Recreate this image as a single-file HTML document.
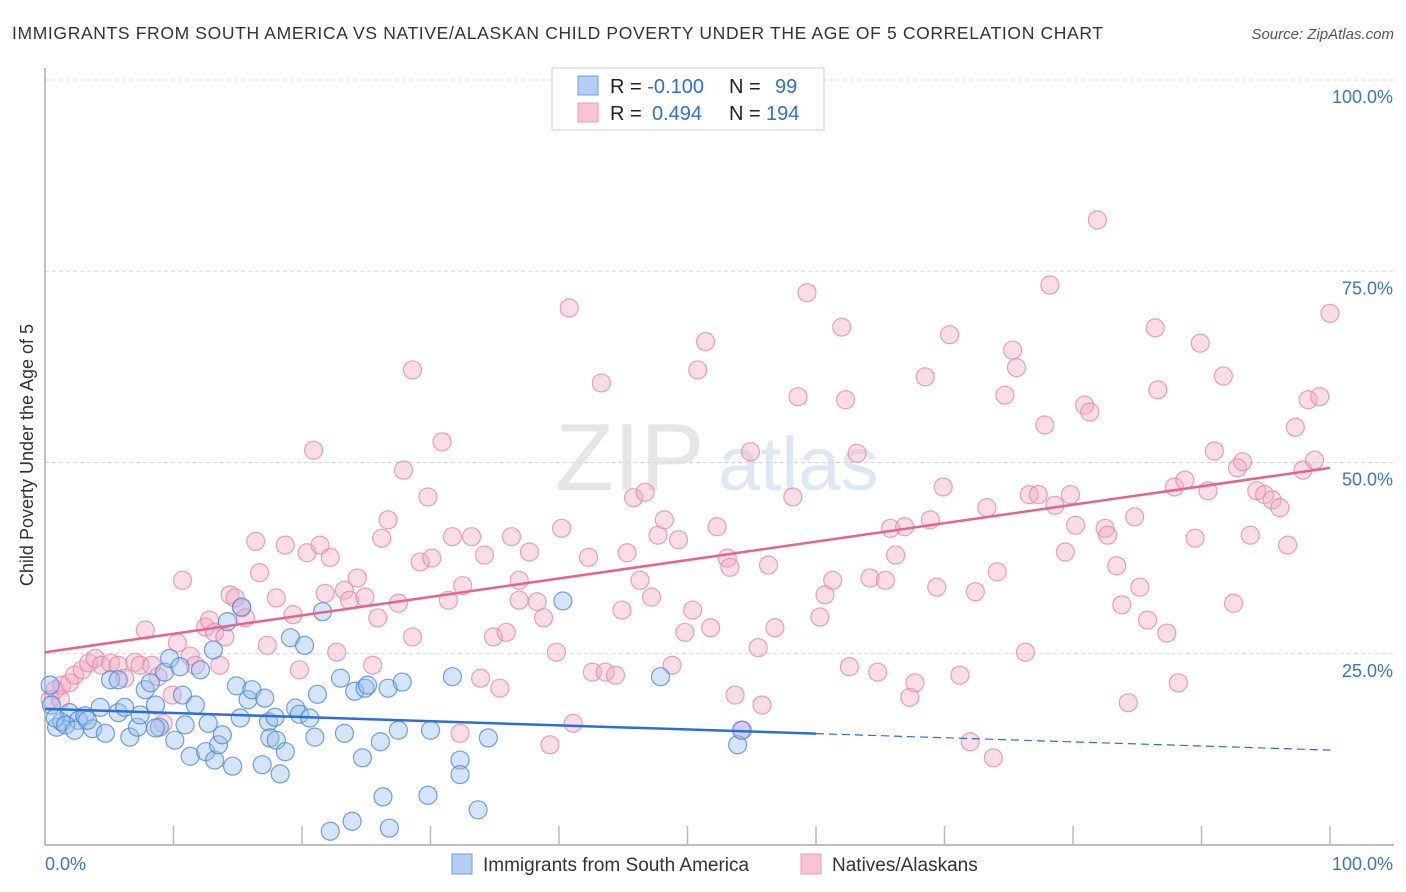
<!DOCTYPE html>
<html><head><meta charset="utf-8"><style>
body{margin:0;background:#fff;font-family:"Liberation Sans",sans-serif;}
#wrap{position:relative;width:1406px;height:892px;overflow:hidden}
svg text{font-family:"Liberation Sans",sans-serif}
</style></head><body>
<div id="wrap">
<svg id="chart" width="1406" height="892">
<text x="12" y="39" font-size="17.5" fill="#333" textLength="1091" lengthAdjust="spacing">IMMIGRANTS FROM SOUTH AMERICA VS NATIVE/ALASKAN CHILD POVERTY UNDER THE AGE OF 5 CORRELATION CHART</text>
<text x="1394" y="39" font-size="15" fill="#555" font-style="italic" text-anchor="end">Source: ZipAtlas.com</text>
<text x="555" y="490" font-size="96" fill="#e6e6e6" font-family="Liberation Serif">ZIP</text>
<text x="718" y="490" font-size="76" fill="#dde8f6">atlas</text>
<text transform="translate(33,455) rotate(-90)" font-size="18" fill="#333" text-anchor="middle">Child Poverty Under the Age of 5</text>
<g id="grid"></g><g id="axes"></g><g id="pts"></g><g id="trends"></g>
<g>
<rect x="552" y="68" width="272" height="62" fill="#fff" stroke="#ccc"/>
<rect x="578" y="76" width="20" height="19" fill="#b4cff2" stroke="#6a9be0"/>
<rect x="578" y="103" width="20" height="19" fill="#f8c4d3" stroke="#eb9ab3"/>
<text x="610" y="93" font-size="20" fill="#222">R = <tspan fill="#2f6fd6">-0.100</tspan><tspan x="729">N = </tspan><tspan x="775" fill="#2f6fd6">99</tspan></text>
<text x="610" y="120" font-size="20" fill="#222">R = <tspan x="652" fill="#2f6fd6">0.494</tspan><tspan x="729">N = </tspan><tspan x="766" fill="#2f6fd6">194</tspan></text>
</g>
<g>
<rect x="452" y="854" width="20" height="20" fill="#b4cff2" stroke="#6a9be0"/>
<text x="483" y="871" font-size="19" fill="#333">Immigrants from South America</text>
<rect x="801" y="854" width="20" height="20" fill="#f8c4d3" stroke="#eb9ab3"/>
<text x="832" y="871" font-size="19" fill="#333">Natives/Alaskans</text>
</g>
</svg></div>
<script>
const blueX=[0.4,0.9,1.3,1.9,2.6,3.1,3.7,4.3,4.7,5.1,5.7,5.7,6.2,6.6,7.2,7.8,8.2,8.6,8.9,9.3,9.7,10.1,10.5,10.7,10.9,11.3,11.7,12.1,12.5,12.7,13.1,13.2,13.5,13.8,14.2,14.6,14.9,15.2,15.3,15.8,16.1,16.9,17.1,17.4,17.5,17.9,18.0,18.3,18.7,19.1,19.5,19.8,20.2,20.6,21.0,21.2,21.6,22.2,23.0,23.3,23.9,24.1,24.7,24.9,25.1,26.1,26.3,26.7,26.8,27.5,27.8,29.8,30.0,31.7,32.3,32.3,33.7,34.5,40.3,47.9,53.9,54.2,0.5,0.8,1.6,2.3,3.3,7.4,8.6];
const blueY=[20.9,15.4,16.1,17.3,16.3,16.9,15.2,18.0,14.6,21.6,21.6,17.3,18.0,14.1,15.4,20.3,21.2,18.3,15.4,22.6,24.4,13.7,23.3,19.6,15.7,11.6,18.3,22.9,12.2,15.9,25.5,11.1,13.1,14.4,29.2,10.3,20.8,16.6,31.1,19.0,20.3,10.5,19.2,16.1,14.0,16.7,13.7,9.3,12.2,27.1,17.9,17.1,26.1,16.6,14.1,19.7,30.5,1.8,21.8,14.6,3.1,20.1,11.4,20.5,20.9,13.5,6.3,20.5,2.2,15.0,21.3,6.5,15.0,22.0,11.1,9.2,4.6,14.0,31.9,22.0,13.1,15.0,18.3,16.6,15.7,15.0,16.3,17.0,15.3];
const pinkX=[0.4,0.8,1.2,1.3,1.9,2.3,2.9,3.4,3.9,4.4,5.1,5.7,6.2,7.0,7.4,7.8,8.3,8.8,9.2,9.9,10.3,10.7,11.3,11.7,12.5,12.8,13.2,13.6,14.0,14.4,14.8,15.3,15.6,16.4,16.7,17.3,18.0,18.7,19.3,19.8,20.4,20.9,21.4,21.8,22.2,22.7,23.3,23.7,24.3,24.9,25.5,25.9,26.2,26.7,27.5,27.9,28.6,28.6,29.2,29.8,30.1,30.9,31.4,31.7,32.3,32.5,33.2,33.9,34.2,34.9,35.4,35.9,36.3,36.9,36.9,37.7,38.3,38.8,39.3,39.8,40.2,40.8,41.1,42.3,42.6,43.3,43.6,44.4,44.9,45.3,45.8,46.3,46.7,47.2,47.7,48.2,48.8,49.3,49.8,50.4,50.8,51.4,51.8,52.3,53.1,53.3,53.7,54.3,54.9,55.5,55.8,56.3,56.8,58.2,58.6,59.3,60.3,60.7,61.3,62.0,62.3,62.6,63.2,64.2,64.8,65.4,65.8,66.2,66.9,67.3,67.7,68.5,68.9,69.4,69.9,70.4,71.2,72.0,72.4,73.3,73.8,74.1,74.7,75.3,75.6,76.3,76.6,77.3,77.8,78.2,78.6,79.8,79.4,80.2,80.9,81.3,81.9,82.5,82.7,83.4,83.8,84.3,84.8,85.2,85.8,86.4,86.6,87.3,87.9,88.2,88.7,89.5,89.9,90.5,91.0,91.7,92.5,92.8,93.2,93.8,94.3,94.9,95.5,96.1,96.7,97.3,97.9,98.3,98.8,99.2,100];
const pinkY=[19.0,20.3,19.0,20.9,21.2,22.2,22.9,23.8,24.4,23.5,23.8,23.5,21.8,23.9,23.5,28.1,23.5,22.0,15.9,19.6,26.4,34.6,24.7,23.5,28.5,29.4,27.8,23.5,27.2,32.7,32.3,31.0,29.7,39.7,35.6,26.1,32.3,39.2,30.1,22.9,38.2,51.6,39.2,32.9,37.6,25.2,33.3,32.0,34.9,32.4,23.5,29.7,40.1,42.5,31.6,49.0,62.1,27.2,37.0,45.5,37.5,52.7,32.0,40.3,14.6,33.9,40.3,21.8,37.9,27.2,20.5,27.8,40.3,34.6,32.0,38.3,31.8,29.7,13.1,25.2,41.4,70.2,15.9,37.6,22.6,60.4,22.6,22.2,30.7,38.2,45.4,34.6,46.1,32.4,40.5,42.5,23.5,39.9,27.8,30.7,62.1,65.8,28.4,41.6,37.5,36.3,19.6,15.0,51.4,25.8,18.3,36.6,28.4,45.5,58.6,72.2,29.8,32.7,34.6,67.7,58.2,23.3,51.2,34.9,22.6,34.6,41.4,37.9,41.6,19.3,21.2,61.2,42.5,33.7,46.8,66.7,22.2,13.5,33.1,44.1,11.4,35.7,58.8,64.7,62.4,25.2,45.8,45.8,54.9,73.2,44.4,45.8,38.3,41.8,57.5,56.6,81.7,41.4,40.5,36.5,31.4,18.6,42.9,33.7,29.4,67.6,59.5,27.7,46.8,21.2,47.7,40.1,65.6,46.3,51.5,61.3,31.6,49.3,50.1,40.5,46.3,45.8,45.1,44.1,39.2,54.6,49.0,58.2,50.3,58.6,69.5];
const yTicks=[25,50,75,100];
const xTicks=[0,10,20,30,40,50,60,70,80,90,100];
const pinkTrend=[25.2,49.3];
const blueTrend=[17.8,12.4];
const blueSolidEnd=60;

const NS="http://www.w3.org/2000/svg";
const X0=45,X1=1330,Y0=845,Y100=80;
const sx=v=>X0+(X1-X0)*v/100, sy=v=>Y0-(Y0-Y100)*v/100;
function mk(tag,attrs,parent){const e=document.createElementNS(NS,tag);for(const k in attrs)e.setAttribute(k,attrs[k]);parent.appendChild(e);return e;}
const grid=document.getElementById('grid'),axes=document.getElementById('axes'),pts=document.getElementById('pts'),tr=document.getElementById('trends');
yTicks.forEach(t=>{
 const l=mk('line',{x1:X0,x2:1394,y1:sy(t),y2:sy(t),stroke:'#d8d8d8','stroke-dasharray':'4,3'},grid);
 
 
 const tx=mk('text',{x:1393,y:sy(t)+23,'font-size':18,fill:'#3b73d4','text-anchor':'end'},grid);
 tx.textContent=t.toFixed(1)+'%';
 
 
});
const ya=mk('line',{x1:X0,x2:X0,y1:68,y2:Y0,stroke:'#aaa','stroke-width':1.5},axes);


const xa=mk('line',{x1:X0,x2:1394,y1:Y0,y2:Y0,stroke:'#aaa','stroke-width':1.5},axes);


xTicks.forEach(t=>{
 if(t===0)return;
 const l=mk('line',{x1:sx(t),x2:sx(t),y1:Y0-19,y2:Y0,stroke:'#bbb','stroke-width':1.5},axes);
 
 
});
const xl0=mk('text',{x:45,y:870,'font-size':18,fill:'#3b73d4'},axes);xl0.textContent='0.0%';


const xl1=mk('text',{x:1393,y:870,'font-size':18,fill:'#3b73d4','text-anchor':'end'},axes);xl1.textContent='100.0%';


pinkX.forEach((v,i)=>{
 const c=mk('circle',{cx:sx(v),cy:sy(pinkY[i]),r:9,fill:'rgba(244,170,195,0.4)',stroke:'rgba(232,130,165,0.75)','stroke-width':1.2},pts);
 
 
});
blueX.forEach((v,i)=>{
 const c=mk('circle',{cx:sx(v),cy:sy(blueY[i]),r:9,fill:'rgba(150,190,240,0.4)',stroke:'rgba(70,130,220,0.75)','stroke-width':1.2},pts);
 
 
});
const pt=mk('line',{x1:sx(0),y1:sy(pinkTrend[0]),x2:sx(100),y2:sy(pinkTrend[1]),stroke:'#e8628f','stroke-width':2.5},tr);


const by=v=>blueTrend[0]+(blueTrend[1]-blueTrend[0])*v/100;
const bt=mk('line',{x1:sx(0),y1:sy(by(0)),x2:sx(blueSolidEnd),y2:sy(by(blueSolidEnd)),stroke:'#2a6fd8','stroke-width':2.5},tr);


const bd=mk('line',{x1:sx(blueSolidEnd),y1:sy(by(blueSolidEnd)),x2:sx(100),y2:sy(by(100)),stroke:'#2a6fd8','stroke-width':1.2,'stroke-dasharray':'8,5'},tr);


</script>
</body></html>
